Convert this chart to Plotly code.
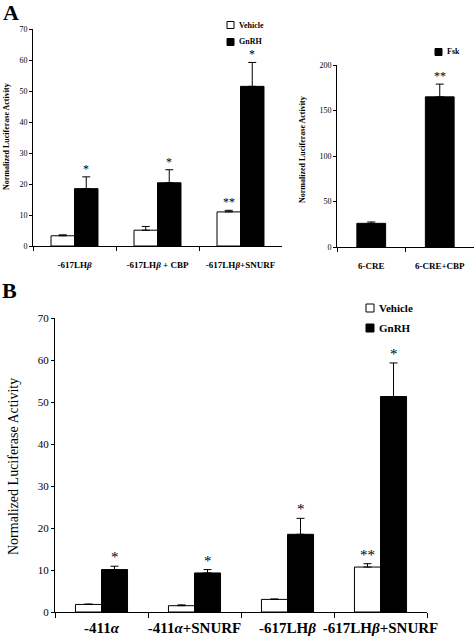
import plotly.graph_objects as go

# ---------------- data ----------------
a_cats = ["-617LH<i>β</i>", "-617LH<i>β</i> + CBP", "-617LH<i>β</i>+SNURF"]
a_vehicle = [3.3, 5.1, 11.0]
a_vehicle_err = [0.3, 1.2, 0.5]
a_gnrh = [18.5, 20.4, 51.5]
a_gnrh_err = [3.8, 4.2, 7.7]
a_vehicle_sig = ["", "", "**"]
a_gnrh_sig = ["*", "*", "*"]

c_cats = ["6-CRE", "6-CRE+CBP"]
c_fsk = [26, 165]
c_fsk_err = [1.5, 14]
c_sig = ["", "**"]

b_cats = ["-411<i>α</i>", "-411<i>α</i>+SNURF", "-617LH<i>β</i>", "-617LH<i>β</i>+SNURF"]
b_vehicle = [1.8, 1.5, 3.0, 10.7]
b_vehicle_err = [0.1, 0.2, 0.1, 0.8]
b_gnrh = [10.1, 9.3, 18.5, 51.3]
b_gnrh_err = [0.8, 0.8, 3.8, 8.0]
b_vehicle_sig = ["", "", "", "**"]
b_gnrh_sig = ["*", "*", "*", "*"]

W, H = 474, 637
FONT = "Liberation Serif"


def px(x):
    return x / W


def py(y):
    return 1 - y / H


fig = go.Figure()


def add_bar(x, y, err, xa, ya, color, width, offset, name):
    fig.add_trace(go.Bar(
        x=x, y=y, name=name, xaxis=xa, yaxis=ya,
        width=width, offset=offset,
        marker=dict(color=color, line=dict(color="black", width=1)),
        error_y=dict(type="data", symmetric=False, array=err,
                     arrayminus=[0] * len(err), color="black",
                     thickness=1, width=4),
        showlegend=False,
    ))


wa = 0.283
add_bar(a_cats, a_vehicle, a_vehicle_err, "x", "y", "white", wa, -wa, "Vehicle")
add_bar(a_cats, a_gnrh, a_gnrh_err, "x", "y", "black", wa, 0, "GnRH")
wc = 0.42
add_bar(c_cats, c_fsk, c_fsk_err, "x2", "y2", "black", wc, -wc / 2, "Fsk")
wb = 0.28
add_bar(b_cats, b_vehicle, b_vehicle_err, "x3", "y3", "white", wb, -wb, "Vehicle")
add_bar(b_cats, b_gnrh, b_gnrh_err, "x3", "y3", "black", wb, 0, "GnRH")

annotations = []


def add_sig(sigs, vals, errs, xref, yref, shift, size):
    for i, (s, v, e) in enumerate(zip(sigs, vals, errs)):
        if s:
            annotations.append(dict(
                x=i + shift, y=v + e, xref=xref, yref=yref, text=s,
                showarrow=False, yanchor="bottom", xanchor="center",
                font=dict(family=FONT, size=size, color="black"), yshift=-1))


add_sig(a_vehicle_sig, a_vehicle, a_vehicle_err, "x", "y", -wa / 2, 12)
add_sig(a_gnrh_sig, a_gnrh, a_gnrh_err, "x", "y", wa / 2, 12)
add_sig(c_sig, c_fsk, c_fsk_err, "x2", "y2", 0, 12)
add_sig(b_vehicle_sig, b_vehicle, b_vehicle_err, "x3", "y3", -wb / 2, 15)
add_sig(b_gnrh_sig, b_gnrh, b_gnrh_err, "x3", "y3", wb / 2, 15)


def text(x, y, s, size, bold=True, angle=0, anchor="center"):
    annotations.append(dict(
        x=px(x), y=py(y), xref="paper", yref="paper",
        text=f"<b>{s}</b>" if bold else s, showarrow=False,
        textangle=angle, xanchor=anchor, yanchor="middle",
        font=dict(family=FONT, size=size, color="black")))


text(11, 12, "A", 22)
text(9, 290, "B", 22)
text(7, 137, "Normalized Luciferase Activity", 8, angle=-90)
text(302, 150, "Normalized Luciferase Activity", 8, angle=-90)
text(13, 467, "Normalized Luciferase Activity", 14, bold=False, angle=-90)

shapes = []


def legend_item(x, y, size, fill, label, fsize):
    shapes.append(dict(type="rect", xref="paper", yref="paper",
                       x0=px(x), x1=px(x + size), y0=py(y + size / 2), y1=py(y - size / 2),
                       fillcolor=fill, line=dict(color="black", width=1)))
    text(x + size + 3, y, label, fsize, anchor="left")


legend_item(227, 25, 7, "white", "Vehicle", 8)
legend_item(227, 42, 7, "black", "GnRH", 8)
legend_item(435, 52, 7, "black", "Fsk", 8)
legend_item(366, 308, 8, "white", "Vehicle", 11)
legend_item(366, 328, 8, "black", "GnRH", 11)

axis_common = dict(showline=True, linecolor="black", linewidth=1, showgrid=False,
                   zeroline=False, ticks="outside", tickcolor="black",
                   ticklen=3, tickwidth=1, automargin=False)
tickfont_small = dict(family=FONT, size=8, color="black")

fig.update_layout(
    template="none",
    width=W, height=H, margin=dict(l=0, r=0, t=0, b=0),
    paper_bgcolor="white", plot_bgcolor="white", barmode="overlay",
    showlegend=False,
    xaxis=dict(domain=[px(33), px(282)], anchor="y", type="category",
               tickson="boundaries", range=[-0.5, 2.5], ticklabelstandoff=10,
               tickangle=0,
               tickfont=dict(family=FONT, size=9, color="black"),
               tickvals=a_cats, ticktext=[f"<b>{c}</b>" for c in a_cats],
               **{**axis_common, "ticklen": 4}),
    yaxis=dict(domain=[py(246), py(29)], anchor="x", range=[0, 70], dtick=10,
               tickfont=tickfont_small, tickformat="d", **axis_common),
    xaxis2=dict(domain=[px(337), 1.0], anchor="y2", type="category",
                tickson="boundaries", range=[-0.5, 1.5], ticklabelstandoff=10,
                tickangle=0,
                tickfont=dict(family=FONT, size=9, color="black"),
                tickvals=c_cats, ticktext=[f"<b>{c}</b>" for c in c_cats],
                **{**axis_common, "ticklen": 4}),
    yaxis2=dict(domain=[py(247), py(65)], anchor="x2", range=[0, 200], dtick=50,
                tickfont=tickfont_small, **axis_common),
    xaxis3=dict(domain=[px(55), px(427)], anchor="y3", type="category",
                tickson="boundaries", range=[-0.5, 3.5], ticklabelstandoff=2,
                tickangle=0,
                tickfont=dict(family=FONT, size=15, color="black"),
                tickvals=b_cats, ticktext=[f"<b>{c}</b>" for c in b_cats],
                **{**axis_common, "ticklen": 5}),
    yaxis3=dict(domain=[py(612), py(318)], anchor="x3", range=[0, 70], dtick=10,
                tickfont=dict(family=FONT, size=11, color="black"),
                **axis_common),
    annotations=annotations,
    shapes=shapes,
)

fig.write_html(
    "out.html",
    config={"displayModeBar": False},
    post_script="document.body.style.margin='0px';document.body.style.overflow='hidden';",
)
